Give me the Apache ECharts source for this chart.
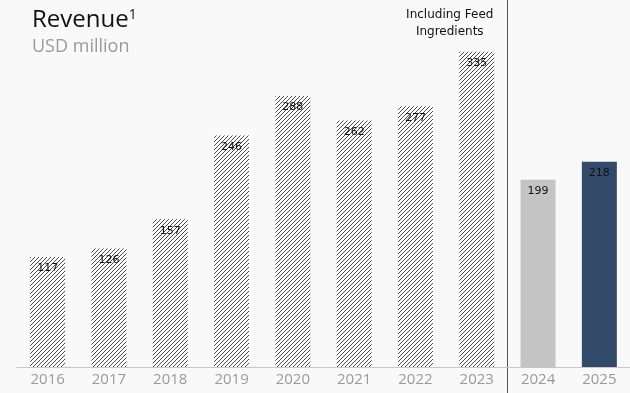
<!DOCTYPE html>
<html><head><meta charset="utf-8">
<script src="https://cdn.jsdelivr.net/npm/echarts@6/dist/echarts.min.js"></script>
<style>html,body{margin:0;padding:0;background:#f9f9f9}#c{width:630px;height:393px}</style>
</head><body><div id="c"></div>
<script>
const categories = ['2016','2017','2018','2019','2020','2021','2022','2023','2024','2025'];
const revenue = [117,126,157,246,288,262,277,335,199,218];
const hatchedCount = 8; // first 8 years include feed ingredients
const note = ['Including Feed', 'Ingredients'];

function hatch() {
  const c = document.createElement('canvas');
  c.width = 4; c.height = 4;
  const g = c.getContext('2d');
  g.fillStyle = '#ffffff'; g.fillRect(0,0,4,4);
  g.strokeStyle = '#4a4a4a'; g.lineWidth = 1;
  g.beginPath();
  g.moveTo(-1,5); g.lineTo(5,-1);
  g.moveTo(-1,1); g.lineTo(1,-1);
  g.moveTo(3,5); g.lineTo(5,3);
  g.stroke();
  return c;
}
const pattern = {image: hatch(), repeat: 'repeat'};
const solidColors = {8: '#c4c4c4', 9: '#344a6b'};

const chart = echarts.init(document.getElementById('c'), null, {renderer: 'canvas'});
const data = revenue.map((v, i) => ({
  value: v,
  itemStyle: {color: i < hatchedCount ? pattern : solidColors[i]}
}));
chart.setOption({
  backgroundColor: '#f9f9f9',
  animation: false,
  grid: {left: 17, right: 0, top: 0, bottom: 26},
  xAxis: {
    type: 'category', data: categories,
    axisLine: {show: true, lineStyle: {color: '#c8c8c8', width: 1}},
    axisTick: {show: false},
    axisLabel: {color: '#9a9a9a', fontSize: 15, fontFamily: 'Open Sans', margin: 5}
  },
  yAxis: {type: 'value', min: 0, max: 390, show: false, splitLine: {show: false}},
  series: [{
    type: 'bar', data: data, barWidth: 35,
    label: {show: true, position: 'insideTop', distance: 6, color: '#111',
      fontSize: 11, fontFamily: 'DejaVu Sans', fontWeight: 'normal'}
  }],
  title: [{
    text: 'Revenue{s|1}', left: 27, top: 3,
    textStyle: {fontSize: 24, color: '#111', fontFamily: 'Open Sans', fontWeight: 'normal',
      rich: {s: {fontSize: 14, verticalAlign: 'top', color: '#111', fontFamily: 'Open Sans', padding: [0,0,10,0]}}}
  }, {
    text: 'USD million', left: 27, top: 33,
    textStyle: {fontSize: 18, color: '#9a9a9a', fontFamily: 'Open Sans', fontWeight: 'normal'}
  }]
});
const xDiv = (chart.convertToPixel({xAxisIndex: 0}, categories[7]) + chart.convertToPixel({xAxisIndex: 0}, categories[8])) / 2;
const xNote = chart.convertToPixel({xAxisIndex: 0}, categories[7]) - 27;
chart.setOption({
  graphic: [
    {type: 'line', shape: {x1: Math.round(xDiv)+0.5, y1: 0, x2: Math.round(xDiv)+0.5, y2: 393},
     style: {stroke: '#555', lineWidth: 1}},
    {type: 'text', x: xNote, y: 6, style: {text: note.join('\n'), align: 'center',
      fontSize: 12, lineHeight: 17, fill: '#111', fontWeight: 'normal', fontFamily: 'DejaVu Sans'}}
  ]
});
</script></body></html>
